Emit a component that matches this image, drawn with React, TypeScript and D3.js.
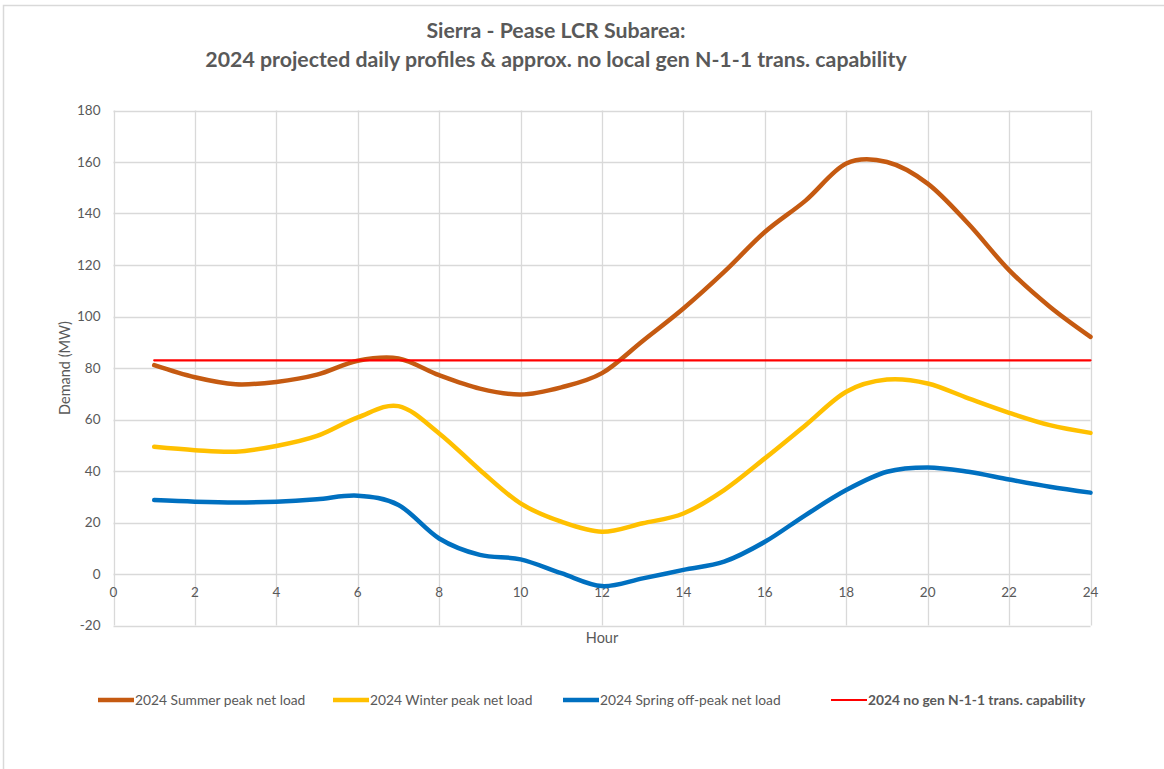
import React from "react";
import * as d3 from "d3";

const hours = [1,2,3,4,5,6,7,8,9,10,11,12,13,14,15,16,17,18,19,20,21,22,23,24];
const summer = [81.1,76.4,73.7,74.6,77.4,82.8,83.7,77.2,72.0,69.7,72.5,78.0,90.5,103.1,117.3,132.8,145.0,159.4,160.0,151.6,136.0,118.0,103.8,92.1];
const winter = [49.4,48.1,47.5,49.7,53.6,60.8,65.2,54.6,40.4,27.4,20.3,16.4,19.7,23.5,32.6,44.9,57.8,70.8,75.5,74.0,68.2,62.6,57.8,54.8];
const spring = [28.7,28.1,27.8,28.1,29.0,30.4,26.8,13.8,7.4,5.7,0.3,-4.7,-1.7,1.6,4.8,12.5,22.9,32.6,39.7,41.4,39.7,36.7,33.9,31.6];
const capability = [83,83,83,83,83,83,83,83,83,83,83,83,83,83,83,83,83,83,83,83,83,83,83,83];
const xTicks = [0,2,4,6,8,10,12,14,16,18,20,22,24];
const yTicks = [-20,0,20,40,60,80,100,120,140,160,180];
const titleLines = ["Sierra - Pease LCR Subarea:", "2024 projected daily profiles & approx. no local gen N-1-1 trans. capability"];

const series = [
  { name: "2024 Summer peak net load", values: summer, color: "#C55A11", width: 4.5, bold: false },
  { name: "2024 Winter peak net load", values: winter, color: "#FFC000", width: 4.5, bold: false },
  { name: "2024 Spring off-peak net load", values: spring, color: "#0070C0", width: 4.5, bold: false },
  { name: "2024 no gen N-1-1 trans. capability", values: capability, color: "#FF0000", width: 2.2, bold: true },
];
const legendX = [98, 333, 563, 831];

export default function App() {
  const W = 1164, H = 769;
  const x = d3.scaleLinear().domain([0, 24]).range([113.5, 1090.5]);
  const y = d3.scaleLinear().domain([-20, 180]).range([625.5, 110.5]);
  const font = "Lato, 'Open Sans', sans-serif";
  const gray = "#595959";
  const grid = "#d9d9d9";
  const line = d3.line<number>()
    .x((_, i) => x(hours[i]))
    .y((v) => y(v))
    .curve(d3.curveCardinal.tension(0));

  return (
    <svg width={W} height={H} style={{ position: "absolute", left: 0, top: 0, background: "#fff" }} fontFamily={font}>
      <rect x={3.5} y={5.5} width={1200} height={800} fill="#fff" stroke="#d9d9d9" strokeWidth={1.5} />
      {titleLines.map((t, i) => (
        <text key={i} x={556} y={38 + i * 29} textAnchor="middle" fontSize={21.3} fontWeight="bold" fill={gray}>{t}</text>
      ))}
      {yTicks.map((t) => (
        <g key={"y" + t}>
          <line x1={x(0)} x2={x(24)} y1={Math.round(y(t)) + 0.5} y2={Math.round(y(t)) + 0.5} stroke={grid} strokeWidth={1.3} />
          <text x={x(0) - 13} y={y(t) + 4.5} textAnchor="end" fontSize={13.5} fill={gray}>{t}</text>
        </g>
      ))}
      {xTicks.map((t) => (
        <g key={"x" + t}>
          <line x1={Math.round(x(t)) + 0.5} x2={Math.round(x(t)) + 0.5} y1={y(180)} y2={y(-20)} stroke={grid} strokeWidth={1.3} />
          <text x={x(t)} y={y(0) + 23} textAnchor="middle" fontSize={13.5} fill={gray}>{t}</text>
        </g>
      ))}
      <text x={602} y={643} textAnchor="middle" fontSize={14.5} fill={gray}>Hour</text>
      <text transform={`translate(70,${y(80)}) rotate(-90)`} textAnchor="middle" fontSize={14.5} fill={gray}>Demand (MW)</text>
      {series.map((s) => (
        <path key={s.name} d={line(s.values) || ""} fill="none" stroke={s.color} strokeWidth={s.width} strokeLinecap="round" />
      ))}
      {series.map((s, i) => (
        <g key={"l" + i}>
          <line x1={legendX[i]} x2={legendX[i] + 36} y1={700} y2={700} stroke={s.color} strokeWidth={s.width} />
          <text x={legendX[i] + 37} y={704.5} fontSize={13.8} fill={gray} fontWeight={s.bold ? "bold" : "normal"}>{s.name}</text>
        </g>
      ))}
    </svg>
  );
}
